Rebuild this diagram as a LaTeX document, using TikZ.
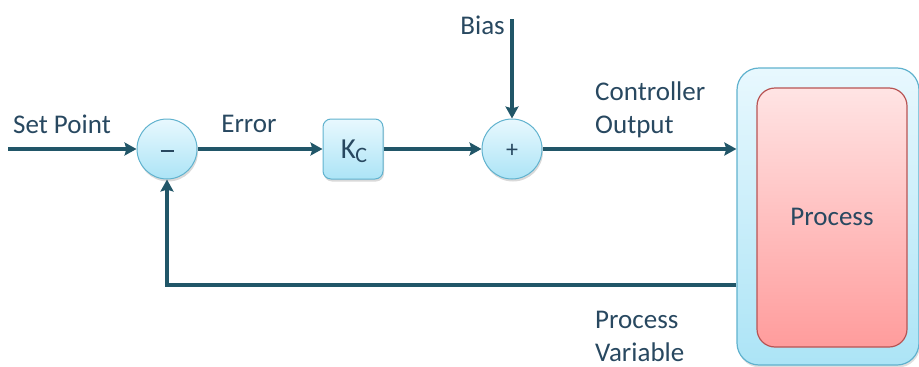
\documentclass[tikz,border=0pt]{standalone}
\usepackage{fontspec}
\setmainfont{Carlito}
\usetikzlibrary{arrows.meta,shadows,calc}
\definecolor{wire}{RGB}{33,86,104}
\definecolor{ink}{RGB}{40,72,96}
\definecolor{bluetop}{RGB}{232,248,254}
\definecolor{bluebot}{RGB}{172,228,246}
\definecolor{blueedge}{RGB}{96,178,206}
\definecolor{redtop}{RGB}{255,228,228}
\definecolor{redbot}{RGB}{255,156,156}
\definecolor{rededge}{RGB}{184,84,84}
\tikzset{
  wireline/.style={draw=wire, line width=3.6pt, -{Stealth[length=12pt,width=13pt,inset=2pt]}},
  junction/.style={circle, minimum size=60pt, inner sep=0pt, draw=blueedge, line width=1pt,
    top color=bluetop, bottom color=bluebot,
    drop shadow={opacity=0.3, shadow xshift=1pt, shadow yshift=-2.5pt}},
  gainbox/.style={rectangle, rounded corners=8pt, minimum size=60pt, inner sep=0pt, draw=blueedge,
    line width=1pt, top color=bluetop, bottom color=bluebot,
    drop shadow={opacity=0.3, shadow xshift=1pt, shadow yshift=-2.5pt}},
  label/.style={text=ink, font=\fontsize{27}{33}\selectfont, inner sep=0pt},
}
\begin{document}
\begin{tikzpicture}[x=1pt, y=-1pt]
  \useasboundingbox (0,0) rectangle (919,367);

  % process block: outer frame and inner core
  \node[rectangle, rounded corners=22pt, minimum width=182pt, minimum height=297pt, inner sep=0pt,
        draw=blueedge, line width=1.2pt, top color=bluetop, bottom color=bluebot,
        drop shadow={opacity=0.25, shadow xshift=1pt, shadow yshift=-2.5pt}]
        (outer) at (828,216.5) {};
  \node[rectangle, rounded corners=18pt, minimum width=150pt, minimum height=259pt, inner sep=0pt,
        draw=rededge, line width=1.2pt, top color=redtop, bottom color=redbot]
        (proc) at (832,217.5) {};
  \node[label] (proctext) at (832,217) {Process};

  % summing junctions and gain
  \node[junction] (minus) at (167,149) {};
  \draw[ink, line width=2pt] ($(minus.center)+(-6.5,2)$) -- ($(minus.center)+(6.5,2)$);
  \node[gainbox] (gain) at (353,149) {};
  \node[text=ink, inner sep=0pt] (gaintext) at (354,151)
    {\fontsize{29}{29}\selectfont K\kern-0.5pt\raisebox{-0.32ex}{\fontsize{22}{22}\selectfont C}};
  \node[junction] (plus) at (512,149) {};
  \node[text=ink, font=\fontsize{24}{24}\selectfont, inner sep=0pt] (plussign) at (512,151) {+};

  % free ends
  \coordinate (sp) at (8,149);
  \coordinate (biastop) at (512,19);
  \coordinate (fb) at (737,285);

  % signal wires
  \draw[wireline] (sp) -- (minus.west);
  \draw[wireline] (minus.east) -- (gain.west);
  \draw[wireline] (gain.east) -- (plus.west);
  \draw[wireline] (biastop) -- (plus.north);
  \draw[wireline] (plus.east) -- (plus.east -| outer.west);
  \draw[wireline] (outer.west |- fb) -| (minus.south);

  % labels
  \node[label] (lsp) at (62,124) {Set Point};
  \node[label] (lerr) at (249,124) {Error};
  \node[label, anchor=east] (lbias) at (505,25) {Bias};
  \node[label, anchor=west, align=left] (lco) at (595,110) {Controller\\Output};
  \node[label, anchor=west, align=left] (lpv) at (595,336) {Process\\Variable};
\end{tikzpicture}
\end{document}
